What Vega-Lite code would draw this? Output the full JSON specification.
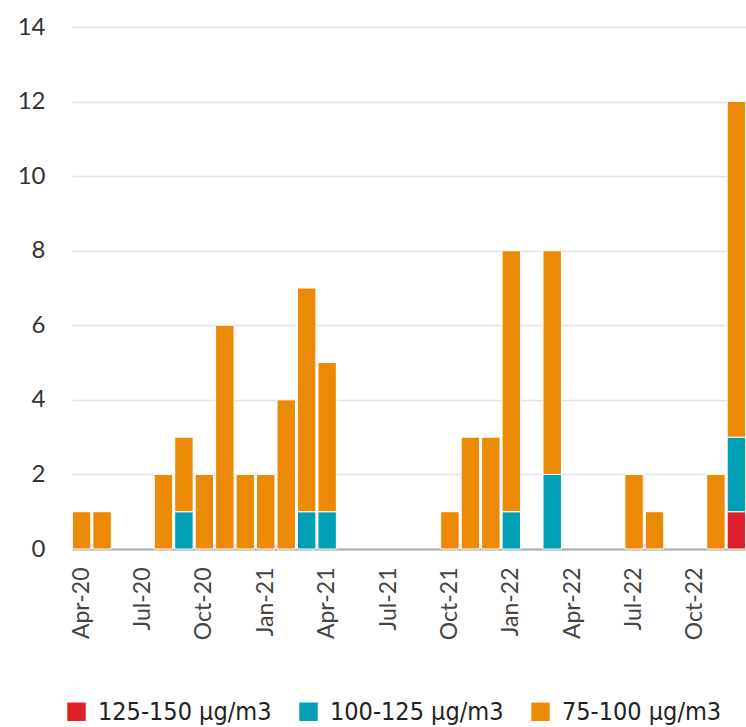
{
  "$schema": "https://vega.github.io/schema/vega-lite/v6.json",
  "width": 674,
  "height": 522,
  "autosize": {"type": "none"},
  "padding": {"left": 72, "top": 27, "right": 0, "bottom": 178},
  "background": "white",
  "config": {"view": {"stroke": null}, "font": "Lato"},
  "data": {"values": [
    {"month": "Apr-20", "band": "75-100 µg/m3", "count": 1},
    {"month": "May-20", "band": "75-100 µg/m3", "count": 1},
    {"month": "Aug-20", "band": "75-100 µg/m3", "count": 2},
    {"month": "Sep-20", "band": "100-125 µg/m3", "count": 1},
    {"month": "Sep-20", "band": "75-100 µg/m3", "count": 2},
    {"month": "Oct-20", "band": "75-100 µg/m3", "count": 2},
    {"month": "Nov-20", "band": "75-100 µg/m3", "count": 6},
    {"month": "Dec-20", "band": "75-100 µg/m3", "count": 2},
    {"month": "Jan-21", "band": "75-100 µg/m3", "count": 2},
    {"month": "Feb-21", "band": "75-100 µg/m3", "count": 4},
    {"month": "Mar-21", "band": "100-125 µg/m3", "count": 1},
    {"month": "Mar-21", "band": "75-100 µg/m3", "count": 6},
    {"month": "Apr-21", "band": "100-125 µg/m3", "count": 1},
    {"month": "Apr-21", "band": "75-100 µg/m3", "count": 4},
    {"month": "Oct-21", "band": "75-100 µg/m3", "count": 1},
    {"month": "Nov-21", "band": "75-100 µg/m3", "count": 3},
    {"month": "Dec-21", "band": "75-100 µg/m3", "count": 3},
    {"month": "Jan-22", "band": "100-125 µg/m3", "count": 1},
    {"month": "Jan-22", "band": "75-100 µg/m3", "count": 7},
    {"month": "Mar-22", "band": "100-125 µg/m3", "count": 2},
    {"month": "Mar-22", "band": "75-100 µg/m3", "count": 6},
    {"month": "Jul-22", "band": "75-100 µg/m3", "count": 2},
    {"month": "Aug-22", "band": "75-100 µg/m3", "count": 1},
    {"month": "Nov-22", "band": "75-100 µg/m3", "count": 2},
    {"month": "Dec-22", "band": "125-150 µg/m3", "count": 1},
    {"month": "Dec-22", "band": "100-125 µg/m3", "count": 2},
    {"month": "Dec-22", "band": "75-100 µg/m3", "count": 9}
  ]},
  "transform": [
    {"calculate": "indexof(['125-150 µg/m3', '100-125 µg/m3', '75-100 µg/m3'], datum.band)", "as": "stackRank"}
  ],
  "mark": {"type": "bar", "stroke": "white", "strokeWidth": 1},
  "encoding": {
    "x": {
      "field": "month",
      "type": "ordinal",
      "scale": {
        "domain": ["Apr-20","May-20","Jun-20","Jul-20","Aug-20","Sep-20","Oct-20","Nov-20","Dec-20","Jan-21","Feb-21","Mar-21","Apr-21","May-21","Jun-21","Jul-21","Aug-21","Sep-21","Oct-21","Nov-21","Dec-21","Jan-22","Feb-22","Mar-22","Apr-22","May-22","Jun-22","Jul-22","Aug-22","Sep-22","Oct-22","Nov-22","Dec-22"],
        "paddingInner": 0.1,
        "paddingOuter": 0.02
      },
      "axis": {
        "title": null,
        "labelAngle": -90,
        "labelAlign": "right",
        "labelBaseline": "middle",
        "labelPadding": 18,
        "labelFontSize": 23,
        "labelColor": "#444",
        "labelExpr": "test(/^(Jan|Apr|Jul|Oct)/, datum.label) ? datum.label : ''",
        "ticks": false,
        "domainColor": "#aaaaaa",
        "domainWidth": 2,
        "grid": false
      }
    },
    "y": {
      "field": "count",
      "type": "quantitative",
      "aggregate": "sum",
      "stack": "zero",
      "scale": {"domain": [0, 14], "nice": false},
      "axis": {
        "title": null,
        "values": [0,2,4,6,8,10,12,14],
        "domain": false,
        "ticks": false,
        "labelPadding": 27,
        "labelFontSize": 24,
        "labelColor": "#333",
        "gridColor": "#e2e2e2",
        "gridWidth": 1.5
      }
    },
    "order": {"field": "stackRank", "type": "quantitative", "sort": "ascending"},
    "color": {
      "field": "band",
      "type": "nominal",
      "sort": ["125-150 µg/m3", "100-125 µg/m3", "75-100 µg/m3"],
      "scale": {
        "domain": ["125-150 µg/m3", "100-125 µg/m3", "75-100 µg/m3"],
        "range": ["#E02027", "#009FB5", "#EC8A05"]
      },
      "legend": {
        "title": null,
        "orient": "none",
        "direction": "horizontal",
        "legendX": -8,
        "legendY": 672,
        "symbolType": "square",
        "symbolSize": 340,
        "symbolStrokeWidth": 0,
        "labelFont": "DejaVu Sans Condensed",
        "labelFontSize": 25,
        "labelColor": "#222",
        "labelOffset": 9,
        "labelLimit": 400,
        "columnPadding": 24
      }
    }
  }
}
